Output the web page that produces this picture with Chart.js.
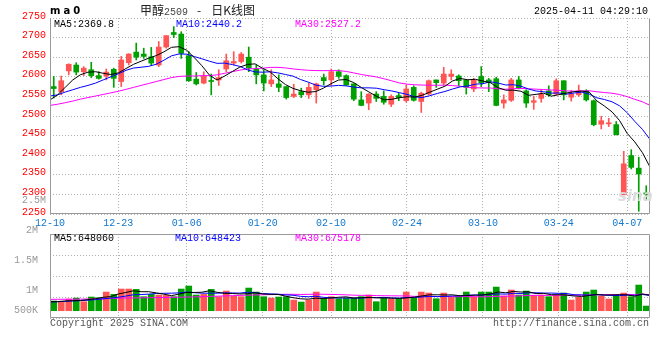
<!DOCTYPE html>
<html lang="zh-CN">
<head>
<meta charset="utf-8">
<title>甲醇2509 - 日K线图</title>
<script src="https://cdn.jsdelivr.net/npm/chart.js@4.4.1/dist/chart.umd.min.js"></script>
<style>
  html, body { margin:0; padding:0; background:#fff; }
  #wrap { position:relative; width:660px; height:360px; overflow:hidden; background:#fff; }
  #wrap canvas { position:absolute; left:0; top:0; }
  .t { position:absolute; font-family:'Liberation Mono','DejaVu Sans Mono',monospace; font-size:10px; line-height:12px; white-space:pre; }
</style>
</head>
<body>
<div id="wrap">
  <canvas id="priceChart" width="660" height="360"></canvas>
  <canvas id="volChart" width="660" height="360"></canvas>

  <div class="t" style="left:50px;top:5px;font-family:'DejaVu Sans',sans-serif;font-weight:bold;letter-spacing:3px;color:#000;">ma0</div>
  <div class="t" style="left:140px;top:3px;font-family:'Noto Sans CJK SC',sans-serif;font-size:12px;line-height:14px;color:#222;">甲醇<span style="font-family:'Liberation Mono',monospace;font-size:10px;color:#444;">2509</span><span style="display:inline-block;width:9px;"> </span>-<span style="display:inline-block;width:10px;"> </span>日K线图</div>
  <div class="t" style="right:12px;top:6px;color:#000;">2025-04-11 04:29:10</div>

  <div class="t" style="left:54px;top:18.6px;color:#000;">MA5:2369.8</div>
  <div class="t" style="left:176px;top:18.6px;color:#0000ff;">MA10:2440.2</div>
  <div class="t" style="left:295px;top:18.6px;color:#ff00ff;">MA30:2527.2</div>

  <div class="t" style="right:614px;top:194.6px;color:#999;text-align:right;">2.5M</div>
  <div class="t" style="left:618px;top:188px;font-family:'DejaVu Sans',sans-serif;font-style:italic;font-weight:bold;font-size:15px;line-height:16px;color:#dcdcdc;">sina</div>

  <div class="t" style="left:54px;top:232.9px;color:#000;">MA5:648060</div>
  <div class="t" style="left:175px;top:232.9px;color:#0000ff;">MA10:648423</div>
  <div class="t" style="left:295px;top:232.9px;color:#ff00ff;">MA30:675178</div>

  <div class="t" style="left:50px;top:318.3px;color:#555;">Copyright 2025 SINA.COM</div>
  <div class="t" style="right:11px;top:318.3px;color:#555;">http://finance.sina.com.cn</div>
</div>
<script>
const dates = ['12-10','12-11','12-12','12-13','12-16','12-17','12-18','12-19','12-20','12-23',
  '12-24','12-25','12-26','12-27','12-30','12-31','01-02','01-03','01-06','01-07',
  '01-08','01-09','01-10','01-13','01-14','01-15','01-16','01-17','01-20','01-21',
  '01-22','01-23','01-24','01-27','02-05','02-06','02-07','02-10','02-11','02-12',
  '02-13','02-14','02-17','02-18','02-19','02-20','02-21','02-24','02-25','02-26',
  '02-27','02-28','03-03','03-04','03-05','03-06','03-07','03-10','03-11','03-12',
  '03-13','03-14','03-17','03-18','03-19','03-20','03-21','03-24','03-25','03-26',
  '03-27','03-28','03-31','04-01','04-02','04-03','04-07','04-08','04-09','04-10'];
const tickDates = ['12-10','12-23','01-06','01-20','02-10','02-24','03-10','03-24','04-07'];

const opens = [2575,2562,2615,2630,2613,2618,2603,2602,2619,2588,
  2636,2663,2658,2651,2630,2676,2713,2709,2654,2594,
  2584,2590,2592,2620,2635,2639,2650,2619,2605,2582,
  2582,2575,2550,2562,2554,2567,2598,2592,2613,2603,
  2582,2541,2533,2556,2550,2530,2552,2539,2573,2537,
  2556,2592,2584,2601,2602,2592,2569,2601,2592,2595,
  2533,2540,2592,2564,2535,2545,2564,2556,2590,2548,
  2554,2564,2539,2479,2480,2478,2299,2399,2367,2304];
const highs = [2601,2602,2633,2636,2626,2637,2613,2620,2622,2652,
  2659,2686,2673,2675,2690,2705,2728,2715,2664,2611,
  2613,2607,2618,2658,2664,2662,2676,2630,2618,2618,
  2605,2575,2581,2571,2584,2584,2607,2620,2618,2605,
  2582,2562,2557,2562,2564,2554,2558,2579,2577,2561,
  2592,2592,2624,2618,2605,2592,2596,2626,2596,2599,
  2554,2596,2601,2567,2550,2567,2577,2595,2590,2565,
  2579,2567,2541,2499,2494,2486,2410,2414,2395,2322];
const lows = [2546,2554,2605,2605,2603,2598,2594,2592,2573,2575,
  2630,2643,2647,2629,2626,2673,2700,2647,2588,2579,
  2582,2554,2578,2613,2630,2635,2613,2582,2564,2575,
  2562,2543,2547,2547,2545,2533,2579,2578,2596,2578,
  2539,2526,2516,2537,2530,2524,2539,2535,2538,2509,
  2554,2573,2579,2592,2577,2556,2562,2575,2562,2526,
  2520,2537,2569,2522,2517,2535,2550,2554,2541,2538,
  2550,2538,2475,2467,2473,2452,2299,2365,2257,2287];
const closes = [2570,2590,2632,2612,2622,2603,2596,2612,2596,2643,
  2658,2650,2652,2635,2676,2705,2708,2660,2590,2582,
  2601,2588,2598,2641,2639,2658,2622,2605,2584,2592,
  2573,2547,2556,2554,2573,2582,2590,2613,2601,2579,
  2543,2527,2556,2545,2535,2550,2547,2569,2540,2558,
  2590,2585,2607,2607,2590,2573,2591,2585,2585,2527,
  2541,2592,2571,2533,2539,2556,2554,2590,2554,2556,
  2564,2541,2478,2488,2482,2452,2378,2369,2352,2301];

const ma5 = [2541,2554,2573,2592,2605.2,2611.8,2613,2609,2605.8,2610,
  2621,2631.8,2639.8,2647.6,2654.2,2663.6,2675.2,2676.8,2667.8,2649,
  2628.2,2604.2,2591.8,2602,2613.4,2624.8,2631.6,2633,2621.6,2612.2,
  2595.2,2580.2,2570.4,2564.4,2560.6,2562.4,2571,2582.4,2591.8,2593,
  2585.2,2572.6,2561.2,2550,2541.2,2542.6,2546.6,2549.2,2548.2,2552.8,
  2560.8,2568.4,2576,2589.4,2595.8,2592.4,2593.6,2589.2,2584.8,2572.2,
  2565.8,2566,2563.2,2552.8,2555.2,2558.2,2550.6,2554.4,2558.6,2562,
  2563.6,2561,2538.6,2525.4,2510.6,2488.2,2455.6,2433.8,2406.6,2369.8];
const ma10 = [2551,2554,2561,2567,2573,2578,2584,2592,2600,2607.6,
  2616.4,2622.4,2624.4,2626.7,2632.1,2642.3,2653.5,2658.3,2657.7,2651.6,
  2645.9,2639.7,2634.3,2634.9,2631.2,2626.5,2617.9,2612.4,2611.8,2612.8,
  2610,2605.9,2601.7,2593,2586.4,2578.8,2575.6,2576.4,2578.1,2576.8,
  2573.8,2571.8,2571.8,2570.9,2567.1,2563.9,2559.6,2555.2,2549.1,2547,
  2551.7,2557.5,2562.6,2568.8,2574.3,2576.6,2581,2582.6,2587.1,2584,
  2579.1,2579.8,2576.2,2568.8,2563.7,2562,2558.3,2558.8,2555.7,2558.6,
  2560.9,2555.8,2546.5,2542,2536.3,2525.9,2508.3,2486.2,2466,2440.2];
const ma30 = [2527,2530,2534,2538,2543,2547,2551,2555,2559,2563,
  2568,2573,2578,2583,2588,2593,2598,2601,2602,2602,
  2603,2603,2605,2609,2613,2617,2620,2621,2622,2624,
  2624.1,2622.7,2620.1,2618.2,2616.6,2615.9,2615.7,2615.7,2615.9,2613.7,
  2609.9,2605.8,2602.6,2599.6,2594.9,2589.7,2584.4,2581.3,2579.7,2578.9,
  2578.5,2578.4,2578.7,2577.6,2575.9,2573.1,2572.1,2571.4,2571.4,2569.3,
  2568.2,2569.7,2570.2,2569.5,2568.4,2567.5,2566.3,2565.5,2564,2563.2,
  2563.9,2564.4,2561.8,2559.9,2558.1,2554.8,2549.2,2542.5,2536.3,2527.2];

const volumes = [409000,352000,493000,535000,380000,578000,550000,789000,690000,916000,
  916000,902000,592000,690000,662000,648000,592000,916000,1043000,662000,
  690000,902000,592000,831000,620000,592000,958000,789000,592000,535000,
  578000,592000,451000,366000,451000,789000,507000,592000,507000,535000,
  535000,592000,662000,380000,535000,507000,507000,789000,535000,789000,
  747000,507000,747000,564000,592000,789000,592000,789000,789000,1000000,
  620000,874000,662000,831000,634000,662000,592000,662000,747000,451000,
  564000,789000,874000,620000,493000,620000,747000,592000,1085000,197000];
const vma5 = [380000,385000,410000,425000,434000,468000,507000,566000,597000,705000,
  772000,843000,803000,803000,752000,699000,637000,702000,772000,772000,
  781000,843000,778000,735000,727000,707000,719000,758000,710000,693000,
  690000,617000,550000,504000,488000,530000,513000,541000,569000,586000,
  535000,552000,566000,541000,541000,535000,518000,544000,575000,625000,
  673000,673000,665000,671000,631000,640000,657000,665000,710000,792000,
  758000,814000,789000,797000,724000,733000,676000,676000,659000,623000,
  603000,643000,685000,660000,668000,679000,671000,614000,707000,648060];
const vma10 = [370000,380000,395000,410000,425000,445000,470000,500000,535000,569000,
  620000,675000,685000,700000,729000,736000,740000,752000,788000,762000,
  740000,740000,740000,754000,750000,744000,781000,768000,723000,710000,
  699000,668000,654000,607000,590000,610000,565000,545000,537000,537000,
  533000,533000,554000,555000,563000,535000,535000,555000,558000,583000,
  604000,596000,604000,623000,628000,657000,665000,665000,691000,712000,
  699000,736000,727000,754000,758000,745000,745000,733000,728000,674000,
  668000,659000,681000,660000,645000,641000,657000,650000,684000,648423];
const vma30 = [480000,482000,484000,486000,490000,495000,500000,510000,520000,530000,
  535000,540000,545000,550000,555000,560000,565000,570000,575000,585000,
  595000,605000,615000,625000,635000,645000,655000,665000,673000,681000,
  686000,694000,693000,687000,690000,697000,695000,689000,682000,670000,
  657000,647000,649000,639000,634000,630000,627000,623000,606000,610000,
  612000,599000,604000,595000,594000,601000,588000,588000,595000,611000,
  612000,621000,628000,644000,650000,646000,649000,651000,659000,656000,
  657000,664000,671000,679000,677000,681000,689000,682000,701000,675178];
const volTickLabels = ['2M','1.5M','1M','500K'];

Chart.defaults.font.family = "'Liberation Mono','DejaVu Sans Mono',monospace";
Chart.defaults.font.size = 10;

const RED = '#ff5555', GREEN = '#00a000', GRID = '#b0b0b0', FRAME = '#999999';
const candleColors = closes.map((c, i) => c >= opens[i] ? RED : GREEN);
const tickIdx = tickDates.map(d => dates.indexOf(d));

const framePlugin = {
  id: 'frame',
  afterDraw(chart, args, o) {
    const {ctx, chartArea: a} = chart;
    ctx.save();
    ctx.strokeStyle = FRAME;
    ctx.lineWidth = 1;
    ctx.setLineDash([]);
    const L = Math.round(a.left) + 0.5, R = Math.round(a.right) - 0.5;
    const T = Math.round(a.top) + 0.5, B = Math.round(a.bottom) - 0.5;
    ctx.beginPath();
    ctx.moveTo(L, T); ctx.lineTo(L, B); ctx.lineTo(R, B); ctx.lineTo(R, T);
    if (o && o.top) ctx.lineTo(L, T);
    ctx.stroke();
    ctx.restore();
  }
};

function lineDs(label, data, color, yID) {
  return {type: 'line', label, data, xAxisID: 'xg', yAxisID: yID, borderColor: color,
    borderWidth: 1, pointRadius: 0, fill: false, tension: 0, order: 0};
}
const gridTicks = s => { s.ticks = tickIdx.map(v => ({value: v})); };

new Chart(document.getElementById('priceChart'), {
  type: 'bar',
  data: {
    labels: dates,
    datasets: [
      lineDs('MA5', ma5, '#000000', 'y'),
      lineDs('MA10', ma10, '#0000ff', 'y'),
      lineDs('MA30', ma30, '#ff00ff', 'y'),
      {type: 'bar', label: 'body', data: opens.map((o, i) => [o, closes[i]]), xAxisID: 'x', yAxisID: 'y',
        backgroundColor: candleColors, barThickness: 5, grouped: false, minBarLength: 1, order: 1},
      {type: 'bar', label: 'wick', data: lows.map((l, i) => [l, highs[i]]), xAxisID: 'x', yAxisID: 'y',
        backgroundColor: candleColors, barThickness: 1, grouped: false, order: 2}
    ]
  },
  options: {
    responsive: false, animation: false, events: [],
    layout: {padding: {top: 18, right: 10, bottom: 130, left: 0}},
    plugins: {legend: {display: false}, tooltip: {enabled: false}, frame: {top: false}},
    scales: {
      x: {type: 'category', display: false, offset: true, grid: {offset: true}},
      xg: {type: 'category', position: 'bottom', offset: false,
        grid: {offset: false, color: GRID, drawTicks: false, lineWidth: 1},
        border: {display: false, dash: [1, 2]},
        ticks: {autoSkip: false, maxRotation: 0, color: '#1177cc', padding: 3},
        afterBuildTicks: gridTicks, afterFit: s => { s.height = 16; }},
      y: {type: 'linear', position: 'left', min: 2250, max: 2750, beginAtZero: false,
        ticks: {stepSize: 50, color: '#ff0000', padding: 4, labelOffset: -2, callback: v => String(v)},
        grid: {color: GRID, drawTicks: false},
        border: {display: false, dash: [1, 2]},
        afterFit: s => { s.width = 50; }}
    }
  },
  plugins: [framePlugin]
});

new Chart(document.getElementById('volChart'), {
  type: 'bar',
  data: {
    labels: dates,
    datasets: [
      lineDs('VMA5', vma5, '#000000', 'yv'),
      lineDs('VMA10', vma10, '#0000ff', 'yv'),
      lineDs('VMA30', vma30, '#ff00ff', 'yv'),
      {type: 'bar', label: 'vol', data: volumes, xAxisID: 'x', yAxisID: 'yv',
        backgroundColor: candleColors, barThickness: 6, grouped: false, order: 1}
    ]
  },
  options: {
    responsive: false, animation: false, events: [],
    layout: {padding: {top: 234, right: 10, bottom: 42, left: 0}},
    plugins: {legend: {display: false}, tooltip: {enabled: false}, frame: {top: true}},
    scales: {
      x: {type: 'category', display: false, offset: true, grid: {offset: true}},
      xg: {type: 'category', position: 'bottom', offset: false,
        grid: {offset: false, color: GRID, drawTicks: false, lineWidth: 1},
        border: {display: false, dash: [1, 2]},
        ticks: {display: false, autoSkip: false},
        afterBuildTicks: gridTicks, afterFit: s => { s.height = 0; }},
      yv: {type: 'linear', position: 'left', min: -308000, max: 3242000, beginAtZero: false,
        ticks: {display: false},
        grid: {color: GRID, drawTicks: false},
        border: {display: false, dash: [1, 2]},
        afterBuildTicks: s => { const n = 4; s.ticks = []; for (let k = 0; k <= n; k++) s.ticks.push({value: s.min + (s.max - s.min) * k / n}); },
        afterFit: s => { s.width = 0; }},
      yl: {type: 'linear', position: 'left', min: 0, max: 1, beginAtZero: false,
        ticks: {color: '#999999', padding: 4, labelOffset: -3.6, callback: (v, i) => volTickLabels[i]},
        grid: {display: false}, border: {display: false},
        afterBuildTicks: s => { s.ticks = [1, 0.64, 0.281, 0.049].map(v => ({value: v})); },
        afterFit: s => { s.width = 50; }}
    }
  },
  plugins: [framePlugin]
});
</script>
</body>
</html>
